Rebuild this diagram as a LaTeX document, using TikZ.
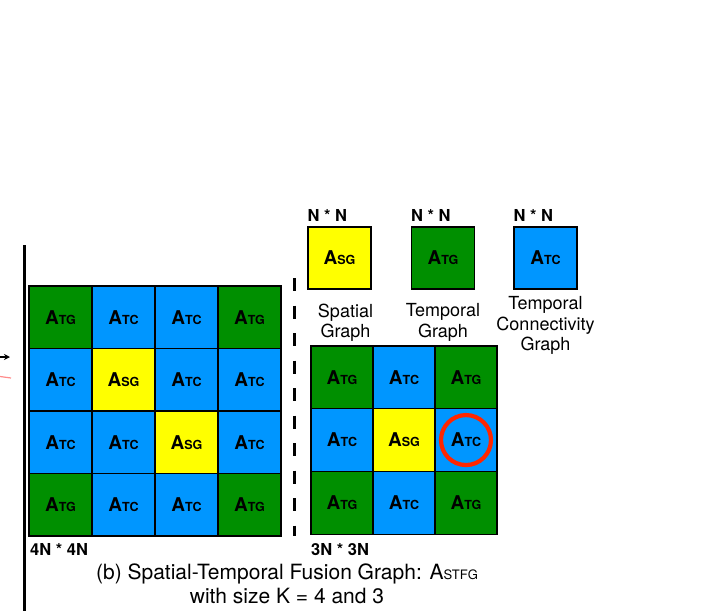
\documentclass[tikz,border=0pt]{standalone}
\usepackage{fontspec}
\setmainfont{TeX Gyre Heros}
\usetikzlibrary{positioning, arrows.meta}
\definecolor{cTG}{HTML}{008F00}
\definecolor{cTC}{HTML}{0096FF}
\definecolor{cSG}{HTML}{FFFF00}
\definecolor{ringred}{HTML}{FF2600}
\newcommand{\adj}[1]{{\bfseries\fontsize{19}{19}\selectfont A\fontsize{12.5}{12.5}\selectfont #1}}

\begin{document}
\begin{tikzpicture}[x=1pt,y=-1pt,
  cell/.style={draw,line width=1.2pt,inner sep=0pt,minimum width=63pt,
               minimum height=62.5pt},
  size/.style={font=\bfseries\fontsize{16.5}{16.5}\selectfont,inner sep=0pt,
               anchor=base west},
  gname/.style={align=center,font=\fontsize{18}{20.5}\selectfont,inner sep=0pt}]
  \useasboundingbox[fill=white] (0,0) rectangle (705,611);
  % fragments at the left edge
  \coordinate (in-a) at (-2,357);
  \coordinate (in-b) at (10,357);
  \draw[-{Stealth[length=6pt,width=6pt]},line width=1.6pt] (in-a) -- (in-b);
  \draw[red!45,line width=1.2pt] (0,376.5) -- (11,378);
  \draw[line width=3pt] (24,245) -- (24,611);
  % K = 4
  \foreach \row [count=\r] in {{TG,TC,TC,TG},{TC,SG,TC,TC},{TC,TC,SG,TC},{TG,TC,TC,TG}}
    \foreach \t [count=\c] in \row
      \node[cell,fill=c\t] (L-\r-\c) at ({29+63*(\c-0.5)},{286+62.5*(\r-0.5)}) {\adj{\t}};
  \node[size] (sz-L) at (30,555) {4N * 4N};
  \draw[line width=3pt,dash pattern=on 13pt off 14.5pt] (294,278) -- (294,536);
  % K = 3
  \foreach \row [count=\r] in {{TG,TC,TG},{TC,SG,TC},{TG,TC,TG}}
    \foreach \t [count=\c] in \row
      \node[cell,fill=c\t,minimum width=62pt,minimum height=62.7pt] (R-\r-\c)
        at ({311+62*(\c-0.5)},{346+62.7*(\r-0.5)}) {\adj{\t}};
  \node[size] (sz-R) at (311,555) {3N * 3N};
  \node[circle,draw=ringred,line width=4.2pt,minimum size=50pt,inner sep=0pt] (ring) at (R-2-3) {};
  % legend
  \foreach \t/\x in {SG/339.5,TG/443,TC/545.5} {
    \node[cell,fill=c\t,minimum height=62pt] (leg-\t) at (\x,258) {\adj{\t}};
    \node[size] (nn-\t) at ([yshift=5pt]leg-\t.north west) {N * N};
  }
  \node[gname,below=14pt of leg-SG,xshift=6pt] (lab-SG) {Spatial\\Graph};
  \node[gname,below=14pt of leg-TG] (lab-TG) {Temporal\\Graph};
  \node[gname,below=7pt of leg-TC] (lab-TC) {Temporal\\Connectivity\\Graph};
  % caption
  \node[font=\fontsize{21}{24}\selectfont,align=center,anchor=base] (cap) at (287,603)
    {(b) Spatial-Temporal Fusion Graph: A{\fontsize{13}{13}\selectfont STFG}\\with size K = 4 and 3};
\end{tikzpicture}
\end{document}
